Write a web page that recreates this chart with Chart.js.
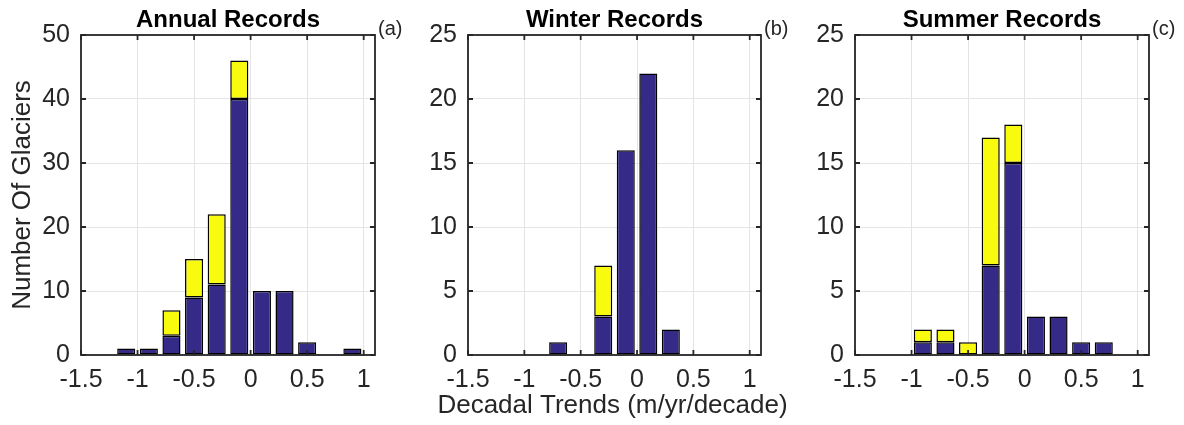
<!DOCTYPE html>
<html>
<head>
<meta charset="utf-8">
<script src="https://cdn.jsdelivr.net/npm/chart.js@4.4.1/dist/chart.umd.min.js"></script>
<style>
  html, body { margin: 0; background: #ffffff; }
  #wrap { position: relative; width: 1184px; height: 425px; }
  #wrap canvas { position: absolute; left: 0; top: 0; }
</style>
</head>
<body>
<div id="wrap">
  <canvas id="panel-a" width="1184" height="425"></canvas>
  <canvas id="panel-b" width="1184" height="425"></canvas>
  <canvas id="panel-c" width="1184" height="425"></canvas>
</div>
<script>
(function () {
  "use strict";

  // histogram bins (centres, m/yr/decade), bin width 0.2
  const BIN_CENTERS = [-1.3, -1.1, -0.9, -0.7, -0.5, -0.3, -0.1, 0.1, 0.3, 0.5, 0.7, 0.9];
  const X_TICKS = [-1.5, -1, -0.5, 0, 0.5, 1];
  const X_MIN = -1.5;
  const X_MAX = 1.1;

  // counts per bin: dark blue part and the yellow part stacked on it
  const ANNUAL_BLUE   = [0, 1, 1, 3, 9, 11, 40, 10, 10, 2, 0, 1];
  const ANNUAL_YELLOW = [0, 0, 0, 4, 6, 11, 6, 0, 0, 0, 0, 0];
  const WINTER_BLUE   = [0, 0, 0, 1, 0, 3, 16, 22, 2, 0, 0, 0];
  const WINTER_YELLOW = [0, 0, 0, 0, 0, 4, 0, 0, 0, 0, 0, 0];
  const SUMMER_BLUE   = [0, 0, 1, 1, 0, 7, 15, 3, 3, 1, 1, 0];
  const SUMMER_YELLOW = [0, 0, 1, 1, 1, 10, 3, 0, 0, 0, 0, 0];

  const Y_TICKS_ANNUAL = [0, 10, 20, 30, 40, 50];
  const Y_TICKS_SEASON = [0, 5, 10, 15, 20, 25];

  const COLORS = {
    blue: "#352a87",
    yellow: "#f9fb0e",
    edge: "#000000",
    axis: "#262626",
    text: "#262626",
    grid: "#e4e4e4",
  };
  const FONT = '"Liberation Sans", Arial, Helvetica, sans-serif';

  // MATLAB-style box with inward ticks on all four sides, the (a)/(b)/(c) tag,
  // and the shared x label (drawn here so it is not squeezed to the plot width)
  const framePlugin = {
    id: "frame",
    afterDatasetsDraw(chart, args, opts) {
      const ctx = chart.ctx;
      const a = chart.chartArea;
      const x = chart.scales.x;
      const y = chart.scales.y;
      const tick = 5;
      ctx.save();
      ctx.strokeStyle = COLORS.axis;
      ctx.lineWidth = 1.8;
      ctx.strokeRect(a.left, a.top, a.right - a.left, a.bottom - a.top);
      ctx.beginPath();
      x.ticks.forEach((t) => {
        const px = x.getPixelForValue(t.value);
        ctx.moveTo(px, a.bottom); ctx.lineTo(px, a.bottom - tick);
        ctx.moveTo(px, a.top); ctx.lineTo(px, a.top + tick);
      });
      y.ticks.forEach((t) => {
        const py = y.getPixelForValue(t.value);
        ctx.moveTo(a.left, py); ctx.lineTo(a.left + tick, py);
        ctx.moveTo(a.right, py); ctx.lineTo(a.right - tick, py);
      });
      ctx.stroke();
      ctx.fillStyle = COLORS.text;
      ctx.textBaseline = "middle";
      if (opts && opts.tag) {
        ctx.font = "20px " + FONT;
        ctx.textAlign = "left";
        ctx.fillText(opts.tag, a.right + 3, a.top - 6);
      }
      if (opts && opts.xTitle) {
        ctx.font = "26px " + FONT;
        ctx.textAlign = "center";
        ctx.fillText(opts.xTitle, (a.left + a.right) / 2 - 2, a.bottom + 51);
      }
      ctx.restore();
    },
  };

  function toPoints(counts) {
    return counts.map((v, i) => ({ x: BIN_CENTERS[i], y: v > 0 ? v : null }));
  }

  function panel(canvasId, cfg) {
    const el = document.getElementById(canvasId);
    if (!el || typeof Chart === "undefined") return;
    new Chart(el, {
      type: "bar",
      data: {
        datasets: [
          { data: toPoints(cfg.blue), backgroundColor: COLORS.blue, stack: "s" },
          { data: toPoints(cfg.yellow), backgroundColor: COLORS.yellow, stack: "s" },
        ],
      },
      plugins: [framePlugin],
      options: {
        responsive: false,
        animation: false,
        events: [],
        layout: { padding: { left: cfg.padLeft, right: cfg.padRight, top: 0, bottom: 6.5 } },
        datasets: {
          bar: {
            borderColor: COLORS.edge,
            borderWidth: 1.5,
            borderSkipped: false,
            barPercentage: 0.8,
            categoryPercentage: 1,
          },
        },
        plugins: {
          legend: { display: false },
          tooltip: { enabled: false },
          title: {
            display: true,
            text: cfg.title,
            fullSize: false,
            color: "#000000",
            font: { family: FONT, size: 24, weight: "bold", lineHeight: 1 },
            padding: { top: 8, bottom: 3 },
          },
          frame: { tag: cfg.tag, xTitle: cfg.xTitle },
        },
        scales: {
          x: {
            type: "linear",
            stacked: true,
            offset: false,
            min: X_MIN,
            max: X_MAX,
            afterBuildTicks: (s) => { s.ticks = X_TICKS.map((v) => ({ value: v })); },
            afterFit: (s) => { s.height = 63.5; },
            grid: { color: COLORS.grid, drawTicks: false, tickLength: 0, offset: false },
            border: { display: false },
            ticks: {
              color: COLORS.text,
              padding: 10,
              font: { family: FONT, size: 25 },
              callback: (v) => String(v),
            },
          },
          y: {
            stacked: true,
            min: cfg.yTicks[0],
            max: cfg.yTicks[cfg.yTicks.length - 1],
            afterBuildTicks: (s) => { s.ticks = cfg.yTicks.map((v) => ({ value: v })); },
            afterFit: (s) => { s.width = cfg.yWidth; },
            grid: { color: COLORS.grid, drawTicks: false, tickLength: 0 },
            border: { display: false },
            ticks: {
              color: COLORS.text,
              padding: 11,
              font: { family: FONT, size: 25 },
              callback: (v) => String(v),
            },
            title: {
              display: !!cfg.yTitle,
              text: cfg.yTitle || "",
              color: COLORS.text,
              font: { family: FONT, size: 26, lineHeight: 1 },
              padding: { top: 0, bottom: 0 },
            },
          },
        },
      },
    });
  }

  panel("panel-a", {
    title: "Annual Records", tag: "(a)",
    blue: ANNUAL_BLUE, yellow: ANNUAL_YELLOW, yTicks: Y_TICKS_ANNUAL,
    yTitle: "Number Of Glaciers",
    padLeft: 9.5, yWidth: 71.5, padRight: 809,
  });
  panel("panel-b", {
    title: "Winter Records", tag: "(b)",
    blue: WINTER_BLUE, yellow: WINTER_YELLOW, yTicks: Y_TICKS_SEASON,
    xTitle: "Decadal Trends (m/yr/decade)",
    padLeft: 418, yWidth: 50, padRight: 423,
  });
  panel("panel-c", {
    title: "Summer Records", tag: "(c)",
    blue: SUMMER_BLUE, yellow: SUMMER_YELLOW, yTicks: Y_TICKS_SEASON,
    padLeft: 805, yWidth: 50, padRight: 35,
  });
})();
</script>
</body>
</html>
